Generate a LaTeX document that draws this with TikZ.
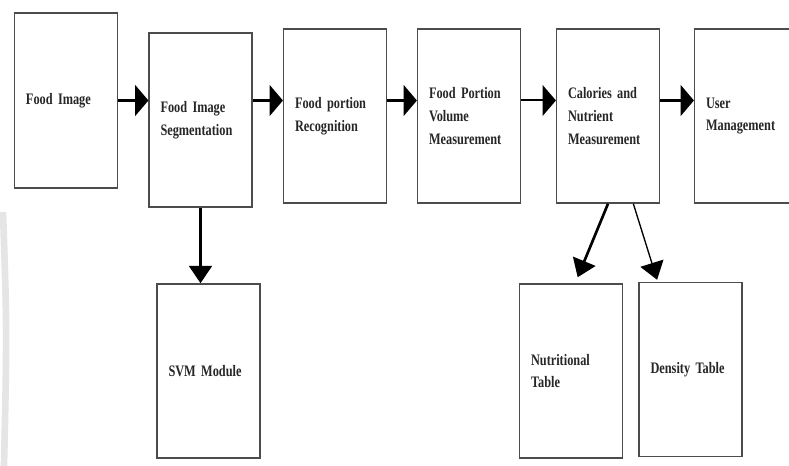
\documentclass[tikz,border=0pt]{standalone}
\usepackage{fontspec}
\setmainfont{Liberation Serif}
\newfontfamily\boxfont[FakeStretch=0.77]{Liberation Serif}
\usetikzlibrary{arrows.meta}
\begin{document}
\begin{tikzpicture}[x=0.75pt,y=-0.75pt,
	box/.style={draw=black!70,line width=1.1pt,minimum height=130.5pt,text width=60pt,inner xsep=8.5pt,
		align=left,text=black!85,font=\boxfont\bfseries\fontsize{12}{17}\selectfont},
	flow/.style={line width=2.2pt,-{Triangle[length=10pt,width=23pt]}}]
	\useasboundingbox (0,0) rectangle (789,466);
	% faint strip on the left
	\draw[black!10,line width=5pt] (3,212) .. controls (7,330) .. (4,466);

	\node[box,minimum height=131pt] (fi) at (66,100.5) {Food Image};
	\node[box] (seg) at (200.5,120) {Food Image\\Segmentation};
	\node[box] (rec) at (335,116) {Food portion\\Recognition};
	\node[box] (vol) at (469,116) {Food Portion\\Volume\\Measurement};
	\node[box] (cal) at (608,116) {Calories and\\Nutrient\\Measurement};
	\node[box] (usr) at (746,116) {User\\Management};

	\node[box] (svm) at (208.5,371) {SVM Module};
	\node[box] (nut) at (571,371) {Nutritional\\Table};
	\node[box] (den) at (690.5,369.5) {Density Table};

	\foreach \a/\b in {fi/seg,seg/rec,rec/vol,cal/usr}
		\draw[flow] (\a.east |- fi.east) -- (\b.west |- fi.east);
	\draw[flow,line width=1.5pt] (vol.east |- fi.east) -- (cal.west |- fi.east);

	\draw[line width=2pt,-{Triangle[length=13pt,width=17pt]}] (seg.south) -- (seg.south |- svm.north);
	\draw[line width=2pt,-{Triangle[length=13pt,width=18pt]}] (cal.south) -- ([xshift=5pt,yshift=4.5pt]nut.north);
	\draw[line width=1pt,-{Triangle[length=13pt,width=18pt]}] ([xshift=19pt]cal.south) -- ([xshift=14pt,yshift=1.5pt]den.north west);
\end{tikzpicture}
\end{document}
